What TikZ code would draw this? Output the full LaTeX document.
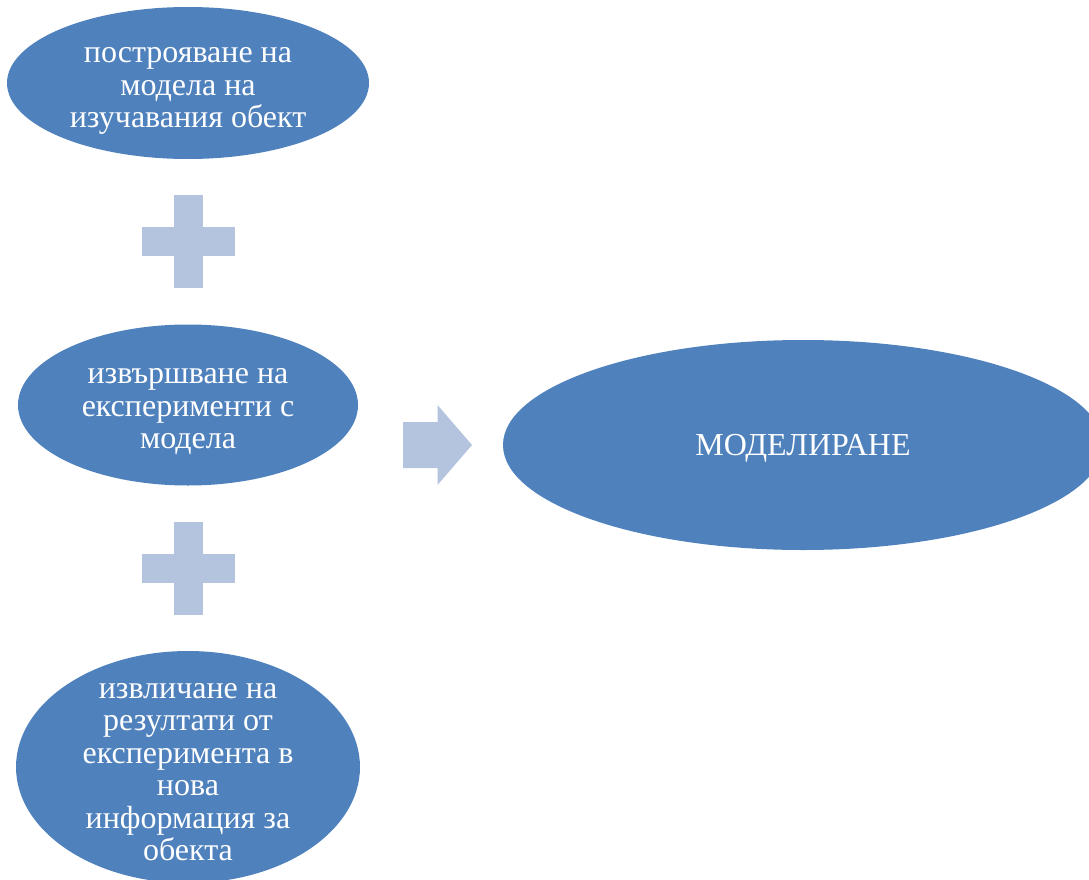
\documentclass[tikz,border=0pt]{standalone}
\usepackage{fontspec}
\setmainfont{Liberation Serif}
\usetikzlibrary{shapes.geometric}
\definecolor{blobblue}{HTML}{4F81BD}
\definecolor{signblue}{RGB}{180,196,222}
\tikzset{
  blob/.style={ellipse, fill=blobblue, draw=none, inner sep=0pt},
  blobtext/.style={text=white, align=center, inner sep=0pt, font=\fontsize{32}{32.5}\selectfont},
  bigtext/.style={text=white, align=center, inner sep=0pt, font=\fontsize{32}{34}\selectfont},
  sign/.style={fill=signblue, draw=none}
}
\begin{document}
\begin{tikzpicture}[x=1pt,y=-1pt]
\useasboundingbox (0,0) rectangle (1089,880);
\clip (0,0) rectangle (1089,880);
% ellipses
\node[blob, minimum width=362pt, minimum height=152pt] (e1) at (188,83) {};
\node[blobtext] (t1) at (188,91) {построяване на\\модела на\\изучавания обект};
\node[blob, minimum width=340pt, minimum height=161pt] (e2) at (188,405) {};
\node[blobtext] (t2) at (188,412) {извършване на\\експерименти с\\модела};
\node[blob, minimum width=344pt, minimum height=232pt] (e3) at (188,767) {};
\node[blobtext] (t3) at (188,772) {извличане на\\резултати от\\експеримента в\\нова\\информация за\\обекта};
\node[blob, minimum width=600pt, minimum height=210pt] (e4) at (803,445) {};
\node[bigtext] (t4) at (803,448) {МОДЕЛИРАНЕ};
% plus signs
\coordinate (p1) at (188,241.5);
\coordinate (p2) at (188,568.5);
\foreach \p in {p1,p2}{
  \fill[sign] ([shift={(-14.5,-46.5)}]\p) rectangle ([shift={(14.5,46.5)}]\p);
  \fill[sign] ([shift={(-46.5,-14.5)}]\p) rectangle ([shift={(46.5,14.5)}]\p);
}
% arrow
\coordinate (a) at (403,445);
\fill[sign] ([shift={(0,-23)}]a) -- ([shift={(34.5,-23)}]a) -- ([shift={(34.5,-40)}]a)
  -- ([shift={(69,0)}]a) -- ([shift={(34.5,40)}]a) -- ([shift={(34.5,23)}]a)
  -- ([shift={(0,23)}]a) -- cycle;
\end{tikzpicture}
\end{document}
